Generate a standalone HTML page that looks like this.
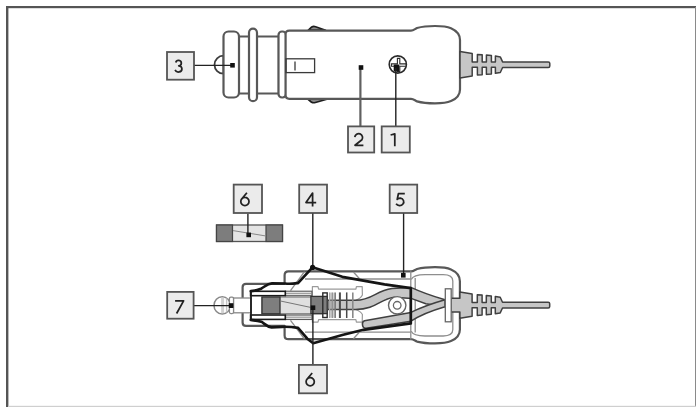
<!DOCTYPE html>
<html>
<head>
<meta charset="utf-8">
<title>Car adapter diagram</title>
<style>
  html, body { margin: 0; padding: 0; background: #ffffff; }
  body { width: 696px; height: 407px; overflow: hidden; font-family: "Liberation Sans", sans-serif; }
  svg { display: block; position: absolute; left: 0; top: 0; filter: blur(0.45px); }
  .o { fill: #ffffff; stroke: #585858; stroke-width: 2.2; stroke-linejoin: round; }
  .bump { fill: #8a8a8a; stroke: #1e1e1e; stroke-width: 1.7; stroke-linejoin: round; stroke-linecap: round; }
  .thin { fill: none; stroke: #3a3a3a; stroke-width: 1.3; }
  .inl { fill: none; stroke: #8e8e8e; stroke-width: 1.3; stroke-linejoin: round; }
  .lead { fill: none; stroke: #222; stroke-width: 1.4; }
  .lead2 { fill: none; stroke: #606060; stroke-width: 2.2; }
  .dot { fill: #111; }
  .box { fill: #ebebeb; stroke: #555; stroke-width: 1.8; }
  .num { font-family: "Liberation Sans", sans-serif; font-size: 19px; fill: #222; text-anchor: middle; }
  .dig { fill: none; stroke: #222; stroke-width: 1.75; stroke-linejoin: round; stroke-linecap: butt; }
  .g { fill: #c6c6c6; stroke: #404040; stroke-width: 1.5; stroke-linejoin: round; }
  .dg { fill: #7d7d7d; stroke: #444; stroke-width: 1.2; }
  .wire { fill: none; stroke: #151515; stroke-width: 2.7; stroke-linejoin: round; stroke-linecap: round; }
</style>
</head>
<body>
<svg width="696" height="407" viewBox="0 0 696 407">
  <!-- frame -->
  <rect x="0" y="0" width="696" height="407" fill="#ffffff"/>
  <rect x="6" y="6" width="2.4" height="401" fill="#555"/>
  <rect x="6" y="6" width="690" height="2.2" fill="#555"/>
  <rect x="695" y="7" width="1" height="400" fill="#8a8a8a"/>
  <rect x="8" y="405.8" width="688" height="1.2" fill="#cfcfcf"/>

  <!-- ===== TOP DEVICE ===== -->
  <g id="top">
    <path class="o" style="stroke:#3c3c3c;stroke-width:1.8" d="M223.5 55.7 A9 9 0 0 0 223.5 73.7 Z"/>
    <rect class="o" x="238" y="36.5" width="12" height="57"/>
    <rect class="o" x="256" y="36.5" width="23" height="57"/>
    <rect class="o" x="223.5" y="31.5" width="15.5" height="66" rx="5" ry="5"/>
    <rect class="o" x="249" y="28.7" width="8" height="72.5" rx="4" ry="4"/>
    <rect class="o" x="278.5" y="31.5" width="7.5" height="66" rx="3.5" ry="3.5"/>
    <path class="bump" d="M308.4 30.2 L311.8 26.9 Q313.4 26 315.6 26.7 L325.6 30.2 Z"/>
    <path class="bump" d="M307.8 99 L311.6 102.3 Q313.2 103.1 315.4 102.5 L326.8 99.2 Z"/>
    <path class="o" d="M289.3 30.6 L411 30.6 C413.5 30.6 414.8 29.0 417 28.0 C423 26.3 430 26.0 435 26.0 C441 26.0 447 26.5 451 28.3 C457 31.0 460 34.5 460 40.0 L460 89.4 C460 94.9 457 98.4 451 101.1 C447 102.9 441 103.4 435 103.4 C430 103.4 423 103.1 417 101.4 C414.8 100.4 413.5 98.8 411 98.8 L289.3 98.8 Q285.6 98.8 285.6 95.3 L285.6 34.1 Q285.6 30.6 289.3 30.6 Z"/>
    <rect class="thin" x="286" y="58.8" width="28.6" height="13.8"/>
    <line class="thin" x1="295" y1="61.5" x2="295" y2="70.5"/>
    <!-- screw -->
    <circle cx="397.8" cy="64.5" r="8.6" fill="#fff" stroke="#2a2a2a" stroke-width="1.6"/>
    <path d="M397.4 58.4 H399.8 V63.9 H406 V66.2 H399.8 V71.6 H397.4 V66.2 H391.4 V63.9 H397.4 Z" fill="#fff" stroke="#2a2a2a" stroke-width="1.1"/>
    <rect x="393.7" y="64.4" width="5.6" height="7.2" rx="1" fill="#111"/>
    <!-- strain relief -->
    <path class="g" d="M460.0 51.5 L472.2 53.5 L472.2 62.1 L477.4 62.1 L477.4 54.4 L482.2 54.7 L482.2 62.1 L486.4 62.1 L486.4 55.1 L491.4 55.5 L491.4 62.1 L495.4 62.1 L495.4 56.1 L500.3 56.9 L502.6 61.9 L548.3 61.9 Q549.8 61.9 549.8 63.4 L549.8 66.0 Q549.8 67.5 548.3 67.5 L502.6 67.5 L500.3 72.5 L495.4 73.3 L495.4 67.3 L491.4 67.3 L491.4 73.9 L486.4 74.3 L486.4 67.3 L482.2 67.3 L482.2 74.7 L477.4 75.0 L477.4 67.3 L472.2 67.3 L472.2 75.9 L460.0 77.9 Z"/>
  </g>

  <!-- leaders top -->
  <line class="lead" x1="194" y1="65.4" x2="232" y2="65.4"/>
  <rect class="dot" x="230.2" y="63" width="4.6" height="4.6"/>
  <line class="lead2" x1="360.4" y1="67" x2="360.4" y2="126"/>
  <rect class="dot" x="358.7" y="65.2" width="4.6" height="4.6"/>
  <line class="lead" x1="395.8" y1="68" x2="395.8" y2="126"/>

  <!-- boxes top -->
  <rect class="box" x="167.0" y="52.0" width="27.0" height="27.7"/>
  <path class="dig" transform="translate(179.1 72.8)" d="M-3.3 -10.3 A2.8 2.7 0 1 1 -0.4 -7.0 A3.5 3.1 0 1 1 -4.0 -2.9"/>
  <rect class="box" x="348.0" y="126.4" width="26.2" height="26.1"/>
  <path class="dig" transform="translate(358.7 146.2)" d="M-3.9 -9.0 A3.9 3.9 0 1 1 3.2 -6.4 L-3.7 -0.9 H4.7"/>
  <rect class="box" x="381.7" y="126.4" width="28.1" height="26.1"/>
  <path class="dig" transform="translate(393.2 146.3)" d="M-2.6 -11.3 L1.6 -12.5 V0"/>

  <!-- ===== standalone fuse (6) ===== -->
  <rect x="216.5" y="225" width="66" height="16.5" fill="#e4e4e4" stroke="#555" stroke-width="1.3"/>
  <rect class="dg" x="216.5" y="225" width="16" height="16.5"/>
  <rect class="dg" x="266" y="225" width="16.5" height="16.5"/>
  <line x1="233" y1="230.6" x2="266" y2="236" stroke="#888" stroke-width="1"/>
  <line class="lead" x1="247.9" y1="213.5" x2="247.9" y2="235"/>
  <rect class="dot" x="246.4" y="232.6" width="4.6" height="4.6"/>
  <rect class="box" x="233.7" y="184.6" width="28.3" height="28.4"/>
  <path class="dig" transform="translate(245.1 206.4)" d="M1.8 -13.6 L-3.9 -6.8 M3.9 -4.9 A4.1 4.1 0 1 1 -4.3 -4.9 A4.1 4.1 0 1 1 3.9 -4.9 Z"/>
  <rect class="box" x="299.2" y="184.6" width="27.8" height="28.4"/>
  <path class="dig" transform="translate(310.6 206.4)" d="M2.0 0 V-13.4 L-4.6 -3.8 H5.6"/>
  <rect class="box" x="389.7" y="184.6" width="27.5" height="28.4"/>
  <path class="dig" transform="translate(400.3 206.4)" d="M4.5 -12.7 H-1.9 L-3.1 -7.0 C-2.2 -7.8 -1.2 -8.2 0.2 -8.2 A4.1 3.7 0 1 1 -4.2 -2.7"/>

  <!-- ===== BOTTOM DEVICE ===== -->
  <g id="bottom">
    <!-- outer housing -->
    <path class="o" d="M246 283.8 L284.6 283.8 L284.6 275.2 Q284.6 271.4 288.4 271.4 L411 271.4 C413.5 271.4 414.8 269.9 417 269.0 C423 267.5 430 267.2 435 267.2 C441 267.2 447 267.7 451 269.5 C457 272.2 459.9 275.7 459.9 281.2 L459.9 329.4 C459.9 334.9 457 338.4 451 341.1 C447 342.9 441 343.4 435 343.4 C430 343.4 423 343.1 417 341.6 C414.8 340.7 413.5 339.2 411 339.2 L288.4 339.2 Q284.6 339.2 284.6 335.4 L284.6 325.9 L246 325.9 Q242.6 325.9 242.6 322.5 L242.6 287.2 Q242.6 283.8 246 283.8 Z"/>
    <!-- inner housing lines -->
    <path class="inl" d="M305 279 L410.8 279 M305 332.2 L410.8 332.2 M304.5 271.6 L290.5 290.6 M353.4 272 L359.5 278.8 M304.5 339 L290.5 320.4 M353.4 338.8 L359.5 332"/>
    
    <!-- bulge inner -->
    <path class="inl" d="M411.2 279.4 C412.5 276.6 416 274.7 425 274.6 L443.2 274.6 C449.5 274.6 452.8 276.5 452.8 281 L452.8 329.6 C452.8 334.1 449.5 336 443.2 336 L425 336 C416 335.9 412.5 334 411.2 331.2 M415.2 278 L415.2 332.6"/>
    <path class="inl" d="M410.8 271.3 L410.8 339.4"/>
    <!-- tip ball -->
    <ellipse cx="222.2" cy="305.4" rx="8.2" ry="8.7" fill="#fff" stroke="#888" stroke-width="1.5"/>
    <path d="M222.6 297.6 V313.2" stroke="#d2d2d2" stroke-width="3" fill="none"/>
    <path d="M226.6 298.4 V312.4" stroke="#c4c4c4" stroke-width="1.4" fill="none"/>
    <rect x="229.4" y="297.2" width="4.2" height="16.4" rx="1.5" fill="#fff" stroke="#888" stroke-width="1.3"/>
    <rect x="233.6" y="298" width="17.4" height="14.8" fill="#fff" stroke="#888" stroke-width="1.3"/>
    <!-- spring bobbin -->
    <path d="M312.4 286.6 L318 286.6 L318.6 289.2 L355.9 289.2 L356.4 286.6 L362.2 286.6 L362.4 295 C361 298 358 299.5 355.6 300.3 L355.6 309.5 C358 310.3 361 311.8 362.4 314.6 L362.2 322.2 L356.4 322.2 L355.9 319.6 L318.6 319.6 L318 322.2 L312.4 322.2 Z" fill="#fff" stroke="#9a9a9a" stroke-width="1.2" stroke-linejoin="round"/>
    <!-- inner tube bars -->
    <rect x="285.3" y="291.2" width="26.6" height="4.5" fill="#e2e2e2" stroke="#5a5a5a" stroke-width="1.1"/>
    <rect x="285.3" y="315" width="26.6" height="4.5" fill="#e2e2e2" stroke="#5a5a5a" stroke-width="1.1"/>
    <line x1="285.3" y1="293.45" x2="311.9" y2="293.45" stroke="#8a8a8a" stroke-width="0.8"/>
    <line x1="285.3" y1="317.25" x2="311.9" y2="317.25" stroke="#8a8a8a" stroke-width="0.8"/>
    <rect x="250.6" y="291.3" width="34.7" height="4.4" fill="#fff" stroke="#1a1a1a" stroke-width="1.6"/>
    <rect x="250.6" y="315" width="34.7" height="4.4" fill="#fff" stroke="#1a1a1a" stroke-width="1.6"/>
    <line x1="251" y1="291.3" x2="251" y2="319.4" stroke="#1a1a1a" stroke-width="1.8"/>
    <!-- fuse inside -->
    <rect x="262" y="297" width="60" height="16.8" fill="#e0e0e0" stroke="#666" stroke-width="1"/>
    <rect x="262" y="297" width="18" height="16.8" fill="#7e7e7e" stroke="#333" stroke-width="1.3"/>
    <line x1="280.5" y1="301" x2="310.6" y2="307.4" stroke="#777" stroke-width="1"/>
    <!-- washer + cap -->
    <rect x="322.8" y="292.9" width="4.4" height="24.6" fill="#fff" stroke="#2a2a2a" stroke-width="1.4"/>
    <rect x="310.9" y="296.4" width="16.3" height="17.2" fill="#7e7e7e" stroke="#333" stroke-width="1.3"/>
    <line x1="322.8" y1="296" x2="322.8" y2="314" stroke="#2a2a2a" stroke-width="1.4"/>
    <!-- internal wires (grey) -->
    <path class="g" d="M327.8 300.3 L355.6 300.3 C372 300.3 376 290.5 392 288.5 L410.9 287.4 C420 291.6 432 296 445 299.8 L445 306.7 L425.8 303.7 L411.8 298.6 L394 297.2 C380 299 376 309.5 355.6 309.5 L327.8 309.5 Z"/>
    <path class="g" d="M364.5 320.8 L410.9 312.4 C420 308 432 303.5 445 299.8 L445 306.7 C432 310.5 420 315 410.9 321.2 L366 328.3 C362.2 328.8 361 322 364.5 320.8 Z"/>
    <!-- spring coils -->
    <rect x="329.2" y="292.6" width="6.4" height="25.2" fill="#9a9a9a" opacity="0.45"/>
    <g fill="none">
      <line x1="329.6" y1="292.4" x2="329.6" y2="318" stroke="#a8a8a8" stroke-width="1.2"/>
      <line x1="332.3" y1="292.4" x2="332.3" y2="318" stroke="#909090" stroke-width="1.2"/>
      <line x1="335.2" y1="292.4" x2="335.2" y2="318" stroke="#777" stroke-width="1.4"/>
      <line x1="339.9" y1="292.4" x2="339.9" y2="318" stroke="#4a4a4a" stroke-width="2"/>
      <line x1="346.7" y1="292.4" x2="346.7" y2="318" stroke="#4a4a4a" stroke-width="1.5"/>
      <line x1="352.8" y1="292.4" x2="352.8" y2="318" stroke="#8a8a8a" stroke-width="1.6"/>
    </g>
    <!-- screw post -->
    <circle cx="397.2" cy="305.3" r="8.7" fill="#fff" stroke="#666" stroke-width="1.4"/>
    <circle cx="397.2" cy="305.3" r="3.8" fill="#fff" stroke="#666" stroke-width="1.3"/>
    <!-- strain relief -->
    <path class="g" d="M459.9 291.9 L472.1 293.9 L472.1 302.5 L477.3 302.5 L477.3 294.8 L482.1 295.1 L482.1 302.5 L486.3 302.5 L486.3 295.5 L491.3 295.9 L491.3 302.5 L495.3 302.5 L495.3 296.5 L500.2 297.3 L502.5 302.2 L548.2 302.2 Q549.7 302.2 549.7 303.8 L549.7 306.5 Q549.7 308.0 548.2 308.0 L502.5 308.0 L500.2 312.9 L495.3 313.7 L495.3 307.7 L491.3 307.7 L491.3 314.3 L486.3 314.7 L486.3 307.7 L482.1 307.7 L482.1 315.1 L477.3 315.4 L477.3 307.7 L472.1 307.7 L472.1 316.3 L459.9 318.3 L459.9 311.9 L450.9 311.9 L450.9 298.3 L459.9 298.3 Z"/>
    <!-- plate -->
    <rect x="445.3" y="288.8" width="5.9" height="33" fill="#fff" stroke="#666" stroke-width="1.3"/>
    <!-- black wire outline (4) -->
    <path class="wire" d="M250.8 291.2 C255 290.7 258 290.1 261 288.7 C265 286.7 267 283.7 272 283.4 L285 283.5 C290 284.2 294 283.6 298 283.1 L312.5 267.3 L342.3 276.8 L384.5 284.4 L410.8 288.2 L410.8 323.4 L363.4 329.8 L342.3 335 L313.2 343.2 L307.3 338.7 L298 327.8 C293 327 288 326.6 282 326.8 L271.5 327.3 C267 327 265 324 261.3 321.7 C258 320.6 255 320.4 250.8 320"/>
  </g>

  <!-- leaders bottom -->
  <line class="lead" x1="312.8" y1="213.5" x2="312.8" y2="267"/>
  <circle class="dot" cx="312.6" cy="267.4" r="2.6"/>
  <line class="lead" x1="403.6" y1="213.5" x2="403.6" y2="275"/>
  <rect class="dot" x="401" y="272.9" width="4.6" height="4.7"/>
  <line class="lead" x1="194" y1="305.6" x2="231" y2="305.6"/>
  <rect class="dot" x="228.8" y="303.2" width="4.6" height="4.8"/>
  <line class="lead" x1="312.9" y1="308" x2="312.9" y2="364.5"/>
  <rect class="dot" x="310.7" y="305.4" width="4.6" height="4.6"/>

  <!-- boxes bottom -->
  <rect class="box" x="167.2" y="291.9" width="26.4" height="26.8"/>
  <path class="dig" transform="translate(179.7 313.5)" d="M-4.6 -12.7 H3.9 L-3.1 0"/>
  <rect class="box" x="298.9" y="364.9" width="28.1" height="28.4"/>
  <path class="dig" transform="translate(310.4 386.6)" d="M1.8 -13.6 L-3.9 -6.8 M3.9 -4.9 A4.1 4.1 0 1 1 -4.3 -4.9 A4.1 4.1 0 1 1 3.9 -4.9 Z"/>
</svg>
</body>
</html>
